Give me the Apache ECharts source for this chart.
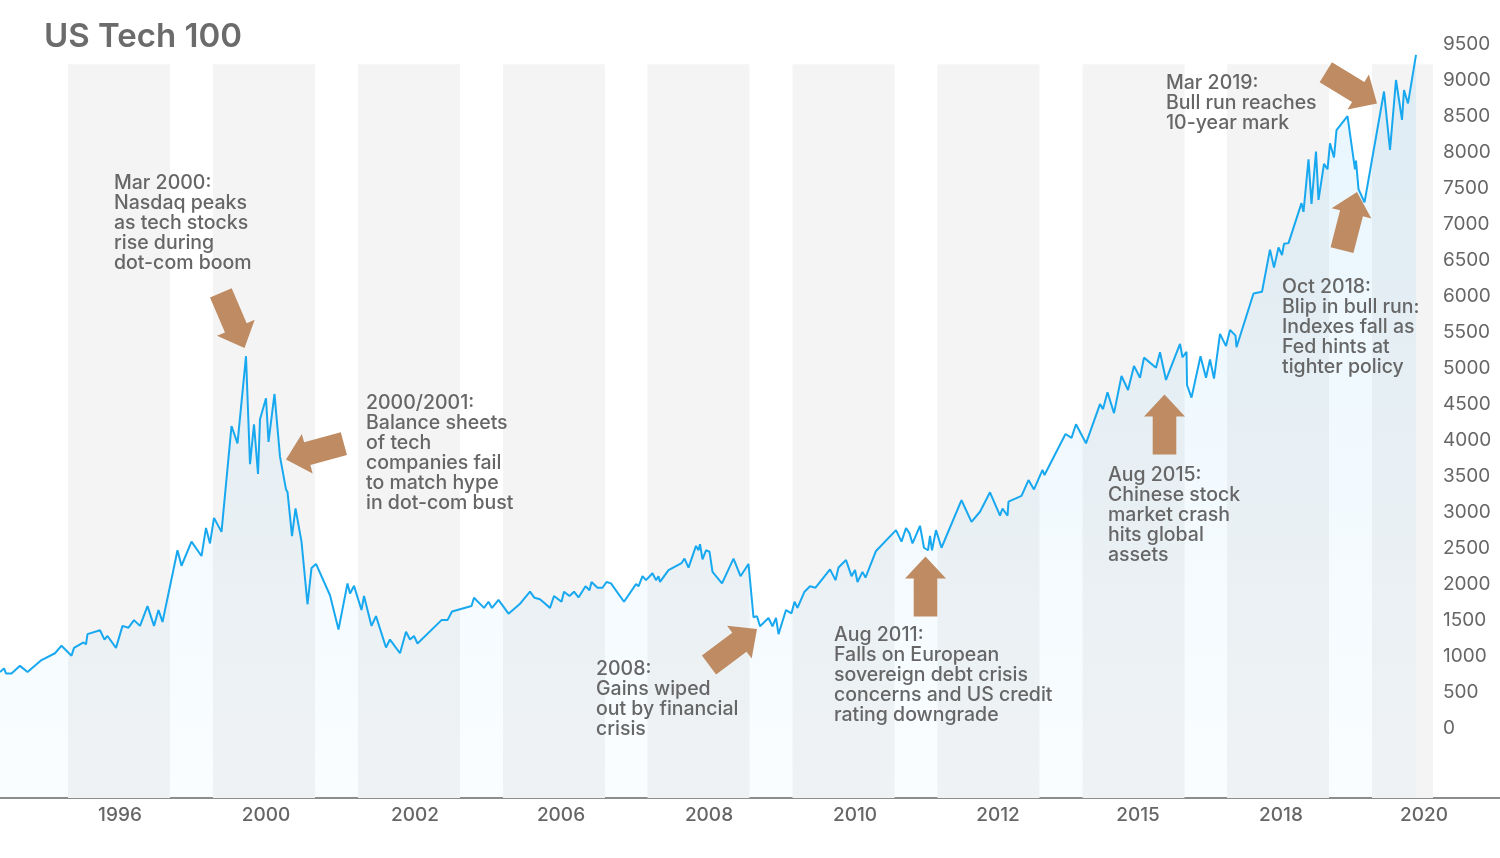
<!DOCTYPE html>
<html>
<head>
<meta charset="utf-8">
<script src="https://cdn.jsdelivr.net/npm/echarts@6/dist/echarts.min.js"></script>
<style>
html,body{margin:0;padding:0;background:#ffffff;}
#chart{width:1500px;height:858px;}
</style>
</head>
<body>
<div id="chart"></div>
<script>
// ---------------- DATA ----------------
const chartTitle = 'US Tech 100';

// x-axis tick labels and their positions on the time index axis
const xTickLabels = ['1996', '2000', '2002', '2006', '2008', '2010', '2012', '2015', '2018', '2020'];
const xTickPositions = [24, 53.2, 83, 112.2, 141.8, 171, 199.6, 227.6, 256.2, 284.8];
// centres of the shaded background bands (time index)
const bandCenters = [23.8, 52.8, 81.8, 110.8, 139.7, 168.7, 197.7, 226.7, 255.6, 284.6];

// y-axis tick labels
const yTickValues = [0, 500, 1000, 1500, 2000, 2500, 3000, 3500, 4000, 4500,
  5000, 5500, 6000, 6500, 7000, 7500, 8000, 8500, 9000, 9500];

// time index of each observation
const timeIndex = [
  0, 0.8, 1.2, 2.3, 4, 5.5, 8.3, 11, 12.3, 14.3,
  14.8, 16.7, 17.2, 17.5, 20, 20.9, 21.5, 23.2, 24.5, 25.7,
  26.8, 28, 29.5, 30.8, 31.7, 32.5, 35.5, 36.3, 38.3, 40.3,
  41.2, 42, 42.8, 44.3, 46.3, 47.5, 49.2, 50, 50.8, 51.6,
  52, 53.2, 53.7, 54.9, 56, 57.2, 57.5, 58.4, 59.1, 60.3,
  61.5, 62.3, 63.2, 66, 67.7, 69.5, 70, 70.8, 72.3, 72.8,
  74.3, 75.2, 77.2, 78, 80, 81.2, 82, 82.8, 83.5, 88.3,
  89.5, 90.4, 94.3, 94.8, 96.8, 97.7, 98.4, 99.7, 101.7, 103.9,
  106, 106.9, 108, 110, 110.8, 112.3, 112.8, 113.9, 114.8, 115.7,
  117.1, 117.9, 118.3, 119.5, 120.5, 121.3, 122.2, 124.8, 127.2, 127.7,
  128.5, 129.2, 130.5, 131.2, 131.7, 132, 133.7, 136.3, 136.9, 137.7,
  139.2, 139.7, 140, 140.5, 141.2, 141.9, 142.5, 144.4, 146.7, 148.1,
  148.5, 149.7, 150.7, 151.4, 152, 153.7, 154.5, 155.2, 155.7, 157.2,
  158.3, 158.9, 159.5, 160.9, 162, 163.1, 166, 167.1, 167.7, 169.2,
  170.3, 171, 171.5, 172.5, 173.1, 175.2, 179.2, 180.3, 181.2, 181.9,
  182.5, 184, 184.8, 185.6, 186, 186.4, 187.2, 188.3, 192.3, 194.3,
  196, 198, 200, 200.5, 201.5, 201.7, 204.3, 205.7, 206.8, 208.5,
  208.9, 213.1, 214.3, 215.2, 217.2, 220, 220.6, 221.5, 222.8, 224.3,
  225.6, 226.8, 228, 228.8, 231.2, 232, 233.2, 236, 236.5, 237.3,
  237.4, 238.3, 240.1, 241.2, 242, 242.8, 244, 245.2, 246, 247.1,
  247.3, 250.7, 252.4, 254, 254.8, 255.7, 256.4, 256.8, 257.7, 260.3,
  260.7, 261.7, 262.3, 263.2, 263.7, 264.8, 265.5, 266, 266.8, 267.3,
  269.5, 271, 271.2, 271.7, 272.9, 276.8, 278, 279.2, 280.4, 280.8,
  281.6, 283.2
];

// index level of each observation
const indexValues = [
  780, 830, 760, 760, 865, 780, 945, 1040, 1145, 1005,
  1115, 1190, 1165, 1305, 1360, 1230, 1280, 1115, 1420, 1395,
  1500, 1420, 1695, 1420, 1640, 1475, 2470, 2255, 2590, 2390,
  2780, 2565, 2920, 2725, 4195, 3955, 5165, 3665, 4220, 3530,
  4290, 4580, 3975, 4640, 3770, 3315, 3280, 2665, 3050, 2590,
  1720, 2225, 2280, 1845, 1370, 2010, 1870, 1975, 1640, 1835,
  1420, 1555, 1120, 1230, 1040, 1340, 1230, 1280, 1175, 1500,
  1500, 1620, 1695, 1810, 1670, 1755, 1670, 1780, 1590, 1720,
  1895, 1810, 1790, 1670, 1835, 1755, 1895, 1835, 1895, 1815,
  1970, 1915, 2030, 1950, 1950, 2030, 2010, 1755, 2000, 1970,
  2110, 2055, 2150, 2055, 2110, 2030, 2195, 2290, 2355, 2230,
  2530, 2470, 2555, 2345, 2470, 2450, 2170, 2010, 2355, 2110,
  2120, 2280, 1540, 1555, 1415, 1530, 1415, 1530, 1305, 1640,
  1595, 1755, 1670, 1895, 1970, 1950, 2205, 2055, 2230, 2335,
  2110, 2195, 2030, 2170, 2090, 2460, 2750, 2590, 2780, 2705,
  2565, 2810, 2505, 2470, 2670, 2470, 2750, 2505, 3165, 2865,
  3005, 3275, 2950, 3050, 2950, 3145, 3225, 3445, 3315, 3585,
  3515, 4085, 4030, 4220, 3955, 4500, 4430, 4665, 4375, 4890,
  4695, 5030, 4865, 5145, 5005, 5220, 4835, 5335, 5150, 5225,
  4765, 4590, 5165, 4865, 5120, 4855, 5475, 5305, 5530, 5450,
  5290, 6035, 6060, 6645, 6395, 6675, 6570, 6725, 6735, 7290,
  7170, 7900, 7280, 8005, 7335, 7835, 7760, 8120, 7925, 8305,
  8500, 7760, 7880, 7485, 7300, 8840, 8030, 9000, 8445, 8860,
  8675, 9350
];

// annotation texts
const annotationTexts = [
  'Mar 2000:\nNasdaq peaks\nas tech stocks\nrise during\ndot-com boom',
  '2000/2001:\nBalance sheets\nof tech\ncompanies fail\nto match hype\nin dot-com bust',
  '2008:\nGains wiped\nout by financial\ncrisis',
  'Aug 2011:\nFalls on European\nsovereign debt crisis\nconcerns and US credit\nrating downgrade',
  'Aug 2015:\nChinese stock\nmarket crash\nhits global\nassets',
  'Oct 2018:\nBlip in bull run:\nIndexes fall as\nFed hints at\ntighter policy',
  'Mar 2019:\nBull run reaches\n10-year mark'
];

// ---------------- LAYOUT / STYLE ----------------
const X_MIN = 0, X_MAX = 286.6;
const Y_MIN = -970, Y_MAX = 9500, BAND_TOP = 9220;
const BAND_HALF = 10.2;
const FONT = 'Inter, "Noto Sans", sans-serif';
const TEXT_COLOR = '#666666';
const LINE_COLOR = '#18a8f0';
const ARROW_COLOR = '#be8b62';

const textPos = [
  [114, 173], [366, 393], [596, 659], [834, 625], [1108, 465], [1282, 277], [1166, 73]
];
// arrow tip and direction
const arrowDefs = [
  {tip: [244.5, 348], dir: [0.394, 0.919]},
  {tip: [286, 459.5], dir: [-0.965, 0.264]},
  {tip: [757, 629], dir: [0.8, -0.6]},
  {tip: [925.5, 556.5], dir: [0, -1]},
  {tip: [1164.5, 394.5], dir: [0, -1]},
  {tip: [1357, 192], dir: [0.25, -0.968]},
  {tip: [1377, 103.5], dir: [0.853, 0.521]}
];

function arrowPoints(tip, dir, len, shaftHalf, headHalf, headLen) {
  const l = Math.hypot(dir[0], dir[1]);
  const ux = dir[0] / l, uy = dir[1] / l;
  const px = -uy, py = ux;
  const bx = tip[0] - headLen * ux, by = tip[1] - headLen * uy;
  const cx = tip[0] - len * ux, cy = tip[1] - len * uy;
  return [
    [tip[0], tip[1]],
    [bx + headHalf * px, by + headHalf * py],
    [bx + shaftHalf * px, by + shaftHalf * py],
    [cx + shaftHalf * px, cy + shaftHalf * py],
    [cx - shaftHalf * px, cy - shaftHalf * py],
    [bx - shaftHalf * px, by - shaftHalf * py],
    [bx - headHalf * px, by - headHalf * py]
  ];
}

const seriesData = timeIndex.map((t, i) => [t, indexValues[i]]);

const graphics = [];
annotationTexts.forEach((txt, i) => {
  graphics.push({
    type: 'text', x: textPos[i][0], y: textPos[i][1], z: 100, silent: true,
    style: {text: txt, font: '500 19.5px ' + FONT, fill: TEXT_COLOR, lineHeight: 20, verticalAlign: 'top', align: 'left'}
  });
});
arrowDefs.forEach(a => {
  graphics.push({
    type: 'polygon', z: 100, silent: true,
    shape: {points: arrowPoints(a.tip, a.dir, 60, 11.8, 20.5, 22)},
    style: {fill: ARROW_COLOR}
  });
});
// continuation of the baseline beyond the plot to the right edge
graphics.push({
  type: 'line', z: 50, silent: true,
  shape: {x1: 1433, y1: 798, x2: 1500, y2: 798},
  style: {stroke: '#8c8c8c', lineWidth: 2}
});

const chart = echarts.init(document.getElementById('chart'), null, {renderer: 'canvas'});
chart.setOption({
  animation: false,
  backgroundColor: '#ffffff',
  title: {
    text: chartTitle, left: 39, top: 16,
    textStyle: {fontFamily: FONT, fontSize: 33, fontWeight: 600, color: '#6b6b6b'}
  },
  grid: {left: 0, right: 67, top: 44, bottom: 60, containLabel: false},
  xAxis: {
    type: 'value', min: X_MIN, max: X_MAX,
    axisLine: {onZero: false, lineStyle: {color: '#8c8c8c', width: 2}},
    axisTick: {show: false},
    splitLine: {show: false},
    axisLabel: {
      customValues: xTickPositions, margin: 8,
      color: TEXT_COLOR, fontFamily: FONT, fontSize: 19, fontWeight: 500,
      formatter: function (v) {
        let best = 0;
        for (let i = 1; i < xTickPositions.length; i++) {
          if (Math.abs(xTickPositions[i] - v) < Math.abs(xTickPositions[best] - v)) best = i;
        }
        return xTickLabels[best];
      }
    }
  },
  yAxis: {
    type: 'value', position: 'right', min: Y_MIN, max: Y_MAX,
    axisLine: {show: false}, axisTick: {show: false}, splitLine: {show: false},
    axisLabel: {
      customValues: yTickValues, margin: 10, color: TEXT_COLOR, fontFamily: FONT, fontSize: 19,
      formatter: function (v) { return String(v); }
    }
  },
  graphic: graphics,
  series: [{
    type: 'line',
    data: seriesData,
    showSymbol: false,
    symbol: 'none',
    lineStyle: {color: LINE_COLOR, width: 2},
    areaStyle: {
      origin: 'start',
      color: new echarts.graphic.LinearGradient(0, 0, 0, 1, [
        {offset: 0, color: 'rgba(30,165,240,0.15)'},
        {offset: 1, color: 'rgba(30,165,240,0.03)'}
      ])
    },
    markArea: {
      silent: true,
      itemStyle: {color: '#f4f4f4'},
      data: bandCenters.map(p => [
        {xAxis: Math.max(X_MIN, p - BAND_HALF), yAxis: Y_MIN},
        {xAxis: Math.min(X_MAX, p + BAND_HALF), yAxis: BAND_TOP}
      ])
    }
  }]
});
</script>
</body>
</html>
